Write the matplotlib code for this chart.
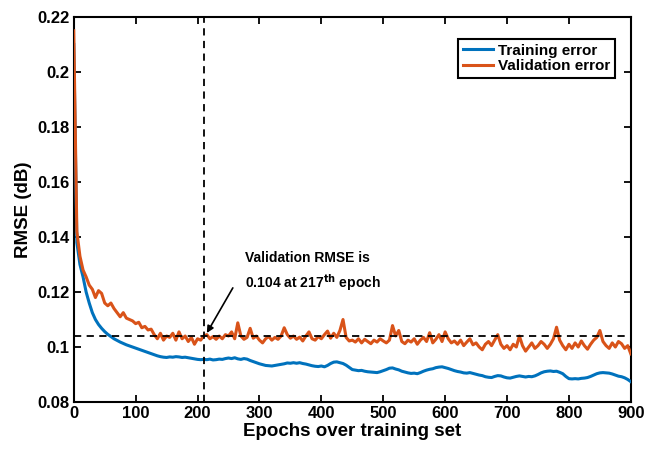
import numpy as np
import matplotlib
matplotlib.use("Agg")
import matplotlib.pyplot as plt

# epochs sampled every 5
epochs = np.arange(0, 905, 5)

train_err = [
    0.2100, 0.1380, 0.1300, 0.1255, 0.1200, 0.1160, 0.1125, 0.1100, 0.1082, 0.1068,
    0.1056, 0.1046, 0.1038, 0.1030, 0.1024, 0.1018, 0.1013, 0.1008, 0.1004, 0.1000,
    0.0996, 0.0992, 0.0988, 0.0984, 0.0980, 0.0976, 0.0972, 0.0968, 0.0965, 0.0963,
    0.0962, 0.0964, 0.0963, 0.0965, 0.0964, 0.0962, 0.0963, 0.0961, 0.0959, 0.0957,
    0.0955, 0.0954, 0.0955, 0.0954, 0.0956, 0.0953, 0.0954, 0.0956, 0.0955, 0.0958,
    0.0960, 0.0958, 0.0961, 0.0957, 0.0955, 0.0958, 0.0956, 0.0951, 0.0947, 0.0943,
    0.0939, 0.0936, 0.0933, 0.0932, 0.0931, 0.0933, 0.0935, 0.0937, 0.0939, 0.0942,
    0.0941, 0.0943, 0.0941, 0.0943, 0.0940, 0.0938, 0.0935, 0.0932, 0.0930, 0.0929,
    0.0931, 0.0928, 0.0933, 0.0940, 0.0945, 0.0946, 0.0943, 0.0940, 0.0934, 0.0926,
    0.0918, 0.0916, 0.0914, 0.0915, 0.0912, 0.0910, 0.0909, 0.0908, 0.0907, 0.0910,
    0.0914, 0.0918, 0.0923, 0.0924, 0.0920, 0.0917, 0.0912, 0.0909, 0.0906, 0.0904,
    0.0905, 0.0903, 0.0907, 0.0912, 0.0916, 0.0919, 0.0921, 0.0925, 0.0927, 0.0928,
    0.0925, 0.0922, 0.0918, 0.0914, 0.0911, 0.0909, 0.0906, 0.0905, 0.0907, 0.0904,
    0.0901, 0.0898, 0.0896, 0.0892, 0.0890, 0.0889, 0.0893, 0.0896, 0.0895, 0.0891,
    0.0888, 0.0887, 0.0890, 0.0893, 0.0895, 0.0893, 0.0891, 0.0893, 0.0892, 0.0895,
    0.0900, 0.0906, 0.0910, 0.0912, 0.0913, 0.0911, 0.0912, 0.0908, 0.0903, 0.0893,
    0.0885, 0.0884, 0.0885, 0.0884, 0.0886, 0.0887, 0.0889, 0.0893, 0.0898, 0.0903,
    0.0906, 0.0907, 0.0906, 0.0905, 0.0902, 0.0898, 0.0894, 0.0892, 0.0888, 0.0882,
    0.0874,
]

val_err = [
    0.2150, 0.1420, 0.1330, 0.1280, 0.1255, 0.1225, 0.1210, 0.1180, 0.1205, 0.1195,
    0.1160, 0.1150, 0.1160, 0.1140, 0.1125, 0.1110, 0.1125, 0.1105, 0.1100, 0.1095,
    0.1085, 0.1090, 0.1070, 0.1075, 0.1062, 0.1065, 0.1045, 0.1030, 0.1050, 0.1025,
    0.1040, 0.1035, 0.1050, 0.1025, 0.1055, 0.1030, 0.1040, 0.1020, 0.1035, 0.1010,
    0.1030, 0.1025, 0.1040, 0.1045, 0.1030, 0.1038, 0.1028, 0.1040, 0.1030, 0.1045,
    0.1040, 0.1055, 0.1030, 0.1088, 0.1040, 0.1028, 0.1035, 0.1068, 0.1032, 0.1040,
    0.1025, 0.1015, 0.1030, 0.1038, 0.1025, 0.1035, 0.1028, 0.1040, 0.1070, 0.1045,
    0.1032, 0.1040, 0.1028, 0.1036, 0.1022, 0.1040, 0.1055, 0.1030, 0.1025, 0.1038,
    0.1030, 0.1045, 0.1058, 0.1032, 0.1050, 0.1035, 0.1060, 0.1100, 0.1035, 0.1022,
    0.1025, 0.1018, 0.1030, 0.1015, 0.1028, 0.1020, 0.1012, 0.1025, 0.1018, 0.1030,
    0.1022, 0.1015, 0.1025, 0.1078, 0.1040, 0.1060, 0.1020, 0.1012, 0.1025, 0.1018,
    0.1030, 0.1010, 0.1025, 0.1035, 0.1020, 0.1052, 0.1015, 0.1028, 0.1045, 0.1020,
    0.1055, 0.1030, 0.1015, 0.1022, 0.1010, 0.1025, 0.1005, 0.1018, 0.1030, 0.1008,
    0.1015, 0.1000, 0.0990, 0.1010, 0.1020, 0.1005, 0.1025, 0.1045, 0.1010, 0.0995,
    0.1005, 0.0990, 0.1010, 0.1000, 0.1040, 0.1005, 0.0985, 0.1000, 0.1015, 0.0995,
    0.1005, 0.1020, 0.1010, 0.0995, 0.1010, 0.1030, 0.1072, 0.1025, 0.1005, 0.0990,
    0.1010, 0.0995, 0.1015, 0.1000, 0.1022, 0.1005, 0.0992, 0.1010, 0.1025, 0.1035,
    0.1060, 0.1020, 0.1005, 0.0995, 0.1015, 0.1000, 0.1020, 0.1012, 0.0995, 0.1005,
    0.0975,
]

best_epoch = 210
best_rmse = 0.104

x_ticks = [0, 100, 200, 300, 400, 500, 600, 700, 800, 900]
y_ticks = [0.08, 0.1, 0.12, 0.14, 0.16, 0.18, 0.2, 0.22]
y_tick_labels = ["0.08", "0.1", "0.12", "0.14", "0.16", "0.18", "0.2", "0.22"]

plt.rcParams['font.family'] = ['Liberation Sans', 'DejaVu Sans']
plt.rcParams['font.weight'] = 'bold'

fig = plt.figure(figsize=(6.47, 4.54), dpi=100)
ax = fig.add_axes([0.114, 0.1145, 0.861, 0.848])

ax.plot(epochs, train_err, color='#0072BD', lw=2.2, label='Training error', zorder=3)
ax.plot(epochs, val_err, color='#D95319', lw=2.2, label='Validation error', zorder=3)

ax.axvline(best_epoch, color='black', ls='--', lw=1.3, dashes=(4, 3), zorder=4)
ax.axhline(best_rmse, color='black', ls='--', lw=1.3, dashes=(4, 3), zorder=4)

# annotation text and arrow
ax.text(276, 0.1274, "Validation RMSE is\n0.104 at 217$^{\\mathbf{th}}$ epoch",
        fontsize=10, fontweight='bold', ha='left', va='center', linespacing=1.45)
ax.annotate('', xy=(215, 0.1051), xytext=(257, 0.1215),
            arrowprops=dict(arrowstyle='-|>', color='black', lw=1.2,
                            shrinkA=0, shrinkB=0, mutation_scale=10))

ax.set_xlim(0, 900)
ax.set_ylim(0.08, 0.22)
ax.set_xticks(x_ticks)
ax.set_yticks(y_ticks)
ax.set_yticklabels(y_tick_labels)
ax.tick_params(direction='in', length=5, width=1.3, top=True, right=True,
               labelsize=12, pad=3)
for lbl in ax.get_xticklabels() + ax.get_yticklabels():
    lbl.set_fontweight('bold')
for s in ax.spines.values():
    s.set_linewidth(1.5)

ax.set_xlabel('Epochs over training set', fontsize=13.5, fontweight='bold', labelpad=1)
ax.set_ylabel('RMSE (dB)', fontsize=13.5, fontweight='bold', labelpad=4)

leg = ax.legend(loc='upper right', bbox_to_anchor=(0.971, 0.943), borderaxespad=0,
                fancybox=False, framealpha=1, edgecolor='black',
                handlelength=2.0, handletextpad=0.3, borderpad=0.3, labelspacing=0.1,
                prop={'weight': 'bold', 'size': 11})
leg.get_frame().set_linewidth(1.5)

fig.savefig('out.png', dpi=100)
